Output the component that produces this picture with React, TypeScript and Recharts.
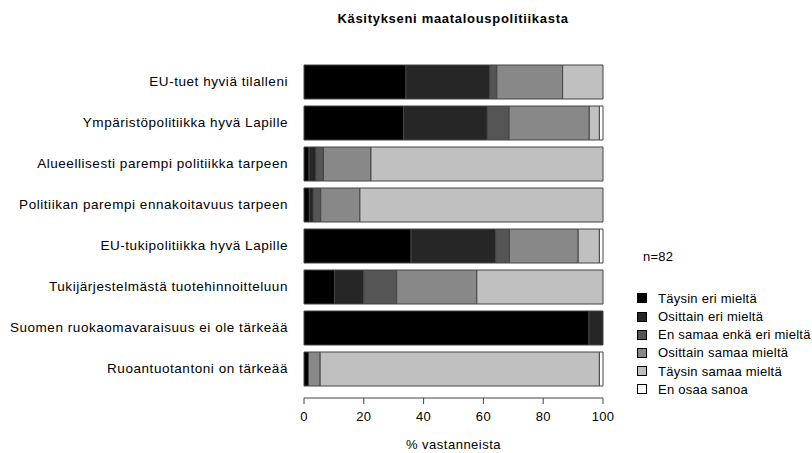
import { BarChart, Bar, XAxis, YAxis } from 'recharts'

const categories = [
  'EU-tuet hyviä tilalleni',
  'Ympäristöpolitiikka hyvä Lapille',
  'Alueellisesti parempi politiikka tarpeen',
  'Politiikan parempi ennakoitavuus tarpeen',
  'EU-tukipolitiikka hyvä Lapille',
  'Tukijärjestelmästä tuotehinnoitteluun',
  'Suomen ruokaomavaraisuus ei ole tärkeää',
  'Ruoantuotantoni on tärkeää',
]

const taysinEri = [34.1, 33.3, 1.7, 1.8, 35.8, 10.2, 95.3, 1.5]
const osittainEri = [28.0, 28.0, 2.3, 1.3, 28.3, 9.8, 4.7, 0]
const enSamaa = [2.4, 7.3, 2.5, 2.5, 4.6, 11.0, 0, 0]
const osittainSamaa = [22.0, 26.8, 15.9, 13.1, 23.0, 26.8, 0, 3.9]
const taysinSamaa = [13.5, 3.4, 77.6, 81.3, 7.1, 42.2, 0, 93.4]
const enOsaa = [0, 1.2, 0, 0, 1.2, 0, 0, 1.2]

const xTicks = [0, 20, 40, 60, 80, 100]

const series = [
  { key: 'taysinEri', name: 'Täysin eri mieltä', color: '#000000', values: taysinEri },
  { key: 'osittainEri', name: 'Osittain eri mieltä', color: '#262626', values: osittainEri },
  { key: 'enSamaa', name: 'En samaa enkä eri mieltä', color: '#555555', values: enSamaa },
  { key: 'osittainSamaa', name: 'Osittain samaa mieltä', color: '#888888', values: osittainSamaa },
  { key: 'taysinSamaa', name: 'Täysin samaa mieltä', color: '#c0c0c0', values: taysinSamaa },
  { key: 'enOsaa', name: 'En osaa sanoa', color: '#ffffff', values: enOsaa },
]

const data = categories.map((c, i) => {
  const row: Record<string, string | number> = { name: c }
  series.forEach((s) => { row[s.key] = s.values[i] })
  return row
})

const font = '"Liberation Sans", Arial, sans-serif'

export default function App() {
  return (
    <div style={{ position: 'absolute', left: 0, top: 0, width: 812, height: 453, fontFamily: font, background: '#fff' }}>
      <div style={{ position: 'absolute', left: 0, width: 906, top: 11, textAlign: 'center', fontWeight: 'bold', fontSize: 13, letterSpacing: 0.7 }}>
        Käsitykseni maatalouspolitiikasta
      </div>
      <BarChart
        width={812}
        height={453}
        data={data}
        layout="vertical"
        margin={{ top: 61, right: 209, bottom: 25, left: 0 }}
        barSize={34}
      >
        <XAxis
          type="number"
          domain={[0, 100]}
          ticks={xTicks}
          height={30}
          tickSize={6}
          tickMargin={8}
          stroke="#444"
          tick={{ fill: '#000', fontSize: 13, fontFamily: font, letterSpacing: 0.3 }}
        />
        <YAxis
          type="category"
          dataKey="name"
          width={304}
          axisLine={false}
          tickLine={false}
          tickSize={0}
          tickMargin={16}
          padding={{ top: 0, bottom: 9 }}
          tick={{ fill: '#000', fontSize: 13.5, fontFamily: font, letterSpacing: 0.55 }}
        />
        {series.map((s) => (
          <Bar
            key={s.key}
            dataKey={s.key}
            name={s.name}
            stackId="a"
            fill={s.color}
            stroke="#444"
            strokeWidth={1}
            isAnimationActive={false}
          />
        ))}
      </BarChart>
      <div style={{ position: 'absolute', left: 304, width: 299, top: 437, textAlign: 'center', fontSize: 13, letterSpacing: 0.5 }}>
        % vastanneista
      </div>
      <div style={{ position: 'absolute', left: 643, top: 249, fontSize: 13, letterSpacing: 0.25 }}>n=82</div>
      {series.map((s, i) => (
        <div
          key={s.key}
          style={{ position: 'absolute', left: 637, top: 289.8 + i * 18.2, height: 17, display: 'flex', alignItems: 'center', fontSize: 13, letterSpacing: 0.25, whiteSpace: 'nowrap' }}
        >
          <span style={{ display: 'inline-block', width: 8, height: 8, background: s.color, border: '1px solid #000', marginRight: 11 }} />
          {s.name}
        </div>
      ))}
    </div>
  )
}
